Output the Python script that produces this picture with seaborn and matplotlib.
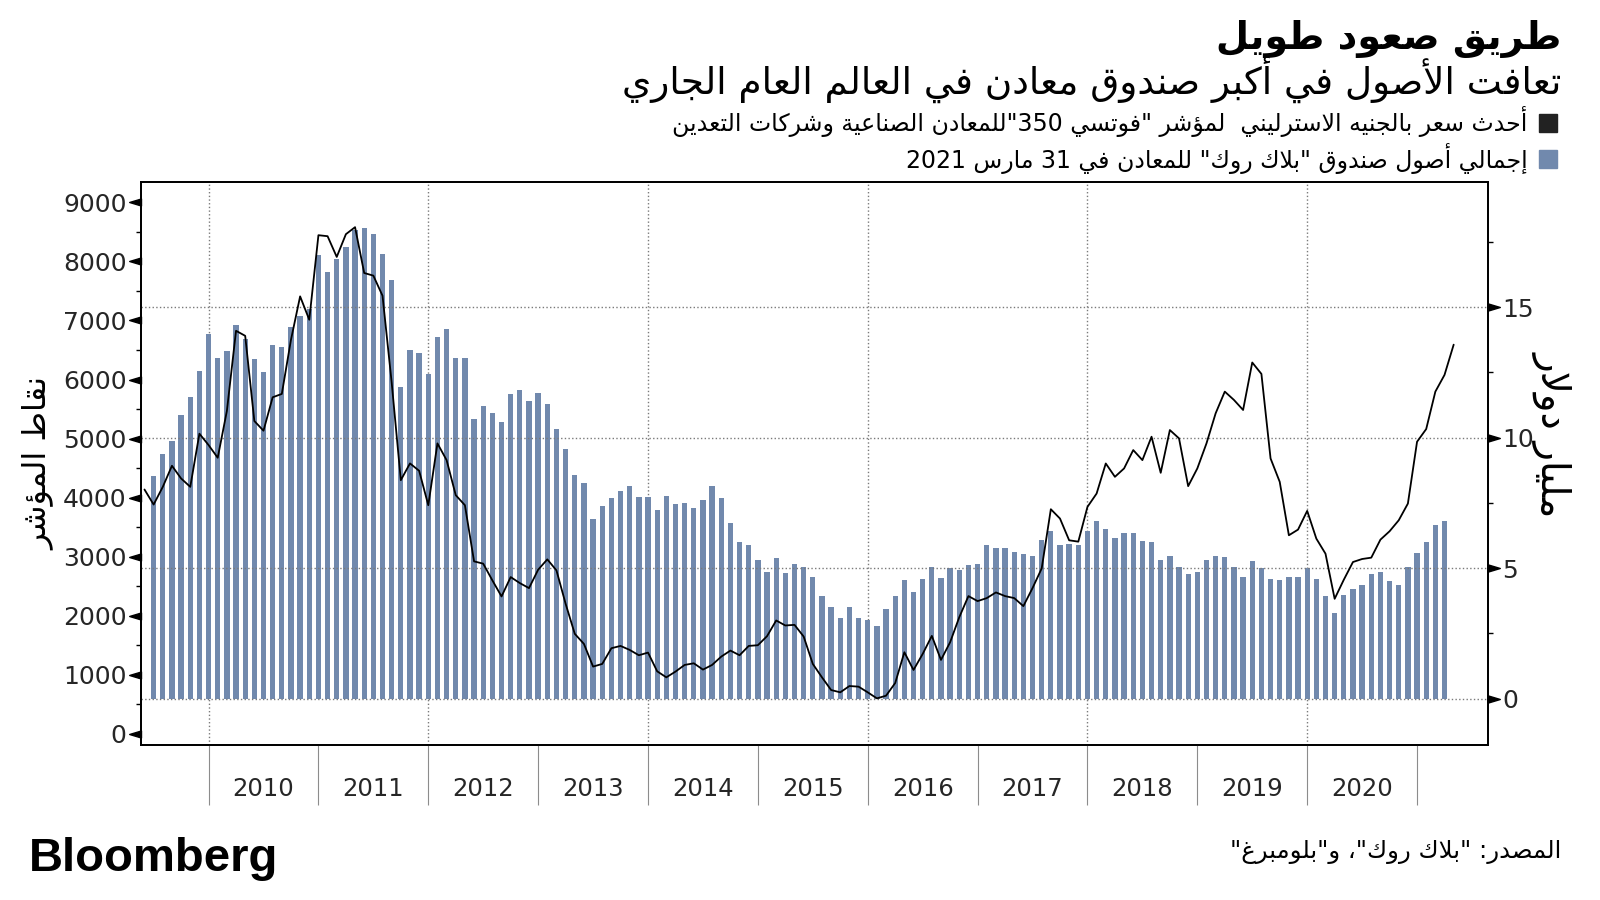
import re

import matplotlib
matplotlib.use('Agg')
import matplotlib.pyplot as plt
import numpy as np
import pandas as pd
import seaborn as sns
from matplotlib.lines import Line2D
from matplotlib.path import Path


# Monthly data, May 2009 - April 2021 (line) / June 2009 - March 2021 (bars)
index_pts = [
    4137, 3882, 4182, 4539, 4324, 4182, 5082, 4890, 4675, 5467, 6825, 6740,
    5297, 5133, 5699, 5756, 6672, 7408, 7012, 8444, 8427, 8076, 8461, 8580,
    7804, 7759, 7419, 5950, 4295, 4579, 4454, 3871, 4918, 4635, 4041, 3871,
    2920, 2881, 2598, 2326, 2654, 2552, 2467, 2779, 2954, 2767, 2202, 1693,
    1522, 1138, 1183, 1449, 1488, 1420, 1330, 1375, 1058, 956, 1053, 1166,
    1194, 1087, 1166, 1307, 1409, 1330, 1488, 1500, 1653, 1919, 1834, 1845,
    1647, 1183, 956, 741, 702, 809, 798, 702, 600, 645, 860, 1381,
    1081, 1352, 1658, 1251, 1551, 1975, 2332, 2247, 2298, 2394, 2332, 2298,
    2162, 2468, 2800, 3803, 3645, 3277, 3254, 3843, 4069, 4578, 4352, 4494,
    4805, 4635, 5031, 4420, 5144, 5003, 4194, 4494, 4918, 5427, 5795, 5654,
    5484, 6288, 6095, 4663, 4267, 3362, 3458, 3775, 3305, 3050, 2286, 2609,
    2909, 2960, 2983, 3288, 3430, 3616, 3899, 4946, 5161, 5795, 6078, 6590,
]
assets_bn = [
    8.53, 9.37, 9.87, 10.86, 11.57, 12.56, 13.96, 13.05, 13.32, 14.30, 13.76,
    13.00, 12.51, 13.55, 13.46, 14.22, 14.67, 14.91, 17.00, 16.33, 16.85, 17.31,
    17.97, 18.01, 17.81, 17.04, 16.05, 11.93, 13.36, 13.23, 12.44, 13.87, 14.17,
    13.05, 13.05, 10.73, 11.21, 10.96, 10.59, 11.66, 11.84, 11.40, 11.71, 11.30,
    10.32, 9.57, 8.56, 8.27, 6.88, 7.37, 7.68, 7.95, 8.13, 7.73, 7.73,
    7.23, 7.77, 7.45, 7.50, 7.32, 7.63, 8.13, 7.68, 6.74, 6.02, 5.89,
    5.31, 4.86, 5.40, 4.81, 5.17, 5.04, 4.68, 3.92, 3.52, 3.11, 3.52,
    3.11, 3.02, 2.79, 3.43, 3.92, 4.55, 4.09, 4.58, 5.04, 4.63, 5.01,
    4.94, 5.13, 5.17, 5.89, 5.79, 5.79, 5.63, 5.54, 5.48, 6.07, 6.43,
    5.89, 5.93, 5.89, 6.43, 6.79, 6.52, 6.15, 6.34, 6.34, 6.06, 6.02,
    5.31, 5.48, 5.04, 4.77, 4.86, 5.31, 5.48, 5.43, 5.04, 4.68, 5.27,
    5.00, 4.59, 4.55, 4.68, 4.68, 5.00, 4.59, 3.93, 3.29, 3.97, 4.20,
    4.37, 4.77, 4.86, 4.50, 4.37, 5.04, 5.60, 6.02, 6.65, 6.79,
]
months = pd.period_range('2009-05', periods=len(index_pts), freq='M')
year_labels = [str(y) for y in range(2010, 2021)]

title = 'طريق صعود طويل'
subtitle = 'تعافت الأصول في أكبر صندوق معادن في العالم العام الجاري'
legend_line = 'أحدث سعر بالجنيه الاسترليني  لمؤشر "فوتسي 350"للمعادن الصناعية وشركات التعدين'
legend_bars = 'إجمالي أصول صندوق "بلاك روك" للمعادن في 31 مارس 2021'
left_label = 'نقاط المؤشر'
right_label = 'مليار دولار'
source = 'المصدر: "بلاك روك"، و"بلومبرغ"'

BAR_BLUE = '#7189ad'
GRID = '#7a7a7a'


# matplotlib has no Arabic shaping/bidi, so do a minimal version here
FORMS = {
    'ء': (0xFE80, 1), 'آ': (0xFE81, 2), 'أ': (0xFE83, 2), 'ؤ': (0xFE85, 2),
    'إ': (0xFE87, 2), 'ئ': (0xFE89, 4), 'ا': (0xFE8D, 2), 'ب': (0xFE8F, 4),
    'ة': (0xFE93, 2), 'ت': (0xFE95, 4), 'ث': (0xFE99, 4), 'ج': (0xFE9D, 4),
    'ح': (0xFEA1, 4), 'خ': (0xFEA5, 4), 'د': (0xFEA9, 2), 'ذ': (0xFEAB, 2),
    'ر': (0xFEAD, 2), 'ز': (0xFEAF, 2), 'س': (0xFEB1, 4), 'ش': (0xFEB5, 4),
    'ص': (0xFEB9, 4), 'ض': (0xFEBD, 4), 'ط': (0xFEC1, 4), 'ظ': (0xFEC5, 4),
    'ع': (0xFEC9, 4), 'غ': (0xFECD, 4), 'ف': (0xFED1, 4), 'ق': (0xFED5, 4),
    'ك': (0xFED9, 4), 'ل': (0xFEDD, 4), 'م': (0xFEE1, 4), 'ن': (0xFEE5, 4),
    'ه': (0xFEE9, 4), 'و': (0xFEED, 2), 'ى': (0xFEEF, 2), 'ي': (0xFEF1, 4),
}
LAM_ALEF = {'آ': 0xFEF5, 'أ': 0xFEF7, 'إ': 0xFEF9, 'ا': 0xFEFB}


def ar(text):
    chars = []
    i = 0
    while i < len(text):
        if text[i] == 'ل' and i + 1 < len(text) and text[i + 1] in LAM_ALEF:
            chars.append(('LA', text[i + 1]))
            i += 2
        else:
            chars.append((text[i], None))
            i += 1
    out = []
    for k, (c, alef) in enumerate(chars):
        prev = chars[k - 1][0] if k > 0 else None
        nxt = chars[k + 1][0] if k + 1 < len(chars) else None
        joins_prev = prev in FORMS and FORMS[prev][1] == 4
        if c == 'LA':
            out.append(chr(LAM_ALEF[alef] + joins_prev))
            continue
        if c not in FORMS:
            out.append(c)
            continue
        base, n = FORMS[c]
        joins_next = n == 4 and (nxt in FORMS or nxt == 'LA')
        if n == 1:
            out.append(chr(base))
        elif n == 2:
            out.append(chr(base + joins_prev))
        else:
            form = {(False, False): 0, (True, False): 1,
                    (False, True): 2, (True, True): 3}[(joins_prev, joins_next)]
            out.append(chr(base + form))
    visual = ''.join(out)[::-1]
    return re.sub(r'[0-9]+', lambda m: m.group(0)[::-1], visual)


sns.set_theme(style='white')
plt.rcParams['font.family'] = ['DejaVu Sans']
plt.rcParams['text.color'] = 'black'

W, H = 1600, 900
fig = plt.figure(figsize=(W / 100, H / 100), dpi=100)
ax_bar = fig.add_axes([141 / W, 1 - 745 / H, (1488 - 141) / W, (745 - 182) / H])
ax_line = ax_bar.twinx()

bar_x = np.arange(1, len(assets_bn) + 1)
line_x = np.arange(len(index_pts))

sns.barplot(x=bar_x, y=assets_bn, native_scale=True, orient='x', color=BAR_BLUE,
            saturation=1, width=0.58, linewidth=0, ax=ax_bar)
sns.lineplot(x=line_x, y=index_pts, color='black', linewidth=1.3, ax=ax_line)

ax_bar.set_xlim(-0.38, 146.75)
ax_bar.set_ylim(-1.77, 19.79)
ax_line.set_ylim(-190, 9345)
ax_bar.set_xlabel('')
ax_bar.set_ylabel('')
ax_line.set_ylabel('')

# bars on the right axis, index points on the left
ax_bar.yaxis.tick_right()
ax_line.yaxis.tick_left()

# year separators under the axis, labels in between
bounds = [i for i, m in enumerate(months) if m.month == 12 and 2009 <= m.year <= 2020]
ax_bar.set_xticks(bounds)
ax_bar.set_xticks([b + 6 for b in bounds[:-1]], minor=True)
ax_bar.set_xticklabels(year_labels, minor=True)
ax_bar.tick_params(axis='x', which='major', length=43, width=0.8, color='#8c8c8c',
                   direction='out', labelbottom=False, bottom=True)
ax_bar.tick_params(axis='x', which='minor', length=0, pad=23, labelsize=17.5, bottom=True)

for b in bounds[::2]:
    ax_bar.axvline(b, color=GRID, linestyle=':', linewidth=1, zorder=0.5)

ax_bar.set_yticks([0, 5, 10, 15])
ax_bar.set_yticks([2.5, 7.5, 12.5, 17.5], minor=True)
ax_line.set_yticks(np.arange(0, 9001, 1000))
ax_line.set_yticks(np.arange(500, 9000, 1000), minor=True)
ax_bar.yaxis.grid(True, which='major', color=GRID, linestyle=':', linewidth=1)
ax_bar.set_axisbelow(False)

for a in (ax_bar, ax_line):
    a.tick_params(axis='y', which='major', length=8.5, width=1, pad=2,
                  labelsize=18, color='black', direction='out')
    a.tick_params(axis='y', which='minor', length=3.5, width=1, color='black',
                  direction='out', left=a is ax_line, right=a is ax_bar)
    for side in a.spines.values():
        side.set_color('black')
        side.set_linewidth(1.3)
        side.set_visible(True)

tri_left = Path([(-1, 0), (0, 0.3), (0, -0.3), (-1, 0)],
                [Path.MOVETO, Path.LINETO, Path.LINETO, Path.CLOSEPOLY])
tri_right = Path([(1, 0), (0, 0.3), (0, -0.3), (1, 0)],
                 [Path.MOVETO, Path.LINETO, Path.LINETO, Path.CLOSEPOLY])
for t in ax_line.yaxis.get_major_ticks():
    t.tick1line.set_marker(tri_left)
    t.tick1line.set_markersize(17)
for t in ax_bar.yaxis.get_major_ticks():
    t.tick2line.set_marker(tri_right)
    t.tick2line.set_markersize(17)

# texts around the chart, sized to the widths in the original
renderer = fig.canvas.get_renderer()


def put_text(x, y, s, length, ha='right', **kw):
    t = fig.text(x / W, 1 - y / H, s, ha=ha, va='center', fontsize=20, **kw)
    bb = t.get_window_extent(renderer)
    t.set_fontsize(20 * length / max(bb.width, bb.height))
    return t


put_text(1561, 39, ar(title), 344, fontweight='bold')
put_text(1561, 79, ar(subtitle), 940)
put_text(38, 464, ar(left_label), 173, ha='center', rotation=90)
put_text(1553, 434, ar(right_label), 165, ha='center', rotation=270)
put_text(1561, 852, ar(source), 331)
put_text(29, 859, 'Bloomberg', 249, ha='left', fontweight='bold',
         family=['Liberation Sans', 'DejaVu Sans'])

probe = fig.text(0, 0, ar(legend_line), fontsize=20)
leg_fs = 20 * 856 / probe.get_window_extent(renderer).width
probe.remove()

handles = [
    Line2D([], [], marker='s', linestyle='', color='#222222', markersize=13),
    Line2D([], [], marker='s', linestyle='', color=BAR_BLUE, markersize=13),
]
fig.legend(handles, [ar(legend_line), ar(legend_bars)], loc='center right',
           bbox_to_anchor=(1558 / W, 1 - 140 / H), markerfirst=False, frameon=False,
           fontsize=leg_fs, handlelength=0.85, handletextpad=0.45, labelspacing=0.22,
           borderpad=0, borderaxespad=0)

fig.savefig('out.png', dpi=100)
